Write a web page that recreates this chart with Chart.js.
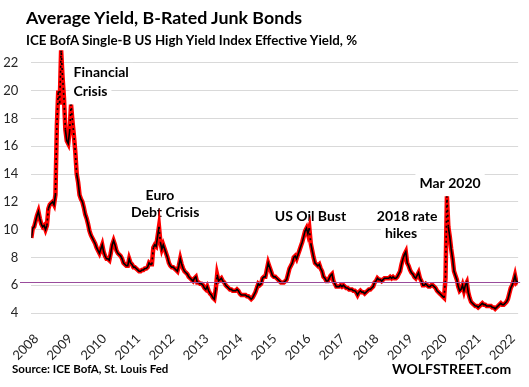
<!DOCTYPE html>
<html>
<head>
<meta charset="utf-8">
<script src="https://cdn.jsdelivr.net/npm/chart.js@4.4.0/dist/chart.umd.min.js"></script>
<style>
  html, body { margin: 0; padding: 0; background: #fff; }
  #wrap { position: relative; width: 529px; height: 387px; overflow: hidden; }
  #yield_chart { position: absolute; left: 0; top: 0; }
  .txt { position: absolute; font-family: Lato, sans-serif; font-weight: bold; color: #000; line-height: 1; white-space: nowrap; }
</style>
</head>
<body>
<div id="wrap">
  <canvas id="yield_chart" width="529" height="387"></canvas>
  <div class="txt" style="left:26px; top:9px; font-size:17.8px;">Average Yield, B-Rated Junk Bonds</div>
  <div class="txt" style="left:26px; top:34px; font-size:13.3px;">ICE BofA Single-B US High Yield Index Effective Yield, %</div>
  <div class="txt" style="left:12px; top:363px; font-size:11.5px;">Source: ICE BofA, St. Louis Fed</div>
  <div class="txt" style="left:392px; top:362px; font-size:14px;">WOLFSTREET.com</div>
</div>
<script>
// yields, twice a month (1st and 16th)
const y2008 = [9.4, 10.1, 10.2, 10.6, 11.0, 11.3, 10.8, 10.4, 10.2, 10.3, 10.0, 10.3, 11.5, 11.8, 11.9, 12.0, 11.8, 12.5, 17.5, 20.0, 19.0, 22.9, 21.0, 19.5];
const y2009 = [17.2, 16.4, 16.2, 17.1, 19.0, 17.8, 16.8, 15.6, 14.0, 13.4, 12.5, 12.2, 12.0, 11.6, 11.1, 10.8, 10.4, 9.9, 9.6, 9.4, 9.2, 9.0, 8.7, 8.5];
const y2010 = [8.3, 8.6, 8.9, 8.4, 8.1, 7.9, 7.9, 7.8, 8.3, 8.9, 9.2, 8.9, 8.5, 8.3, 8.2, 8.1, 7.9, 7.6, 7.5, 7.4, 7.4, 7.9, 7.6, 7.5];
const y2011 = [7.3, 7.3, 7.2, 7.1, 7.0, 7.0, 7.1, 7.1, 7.2, 7.2, 7.3, 7.6, 7.5, 7.5, 8.7, 8.9, 8.8, 9.5, 10.2, 9.1, 8.6, 8.9, 8.6, 8.3];
const y2012 = [8.0, 7.6, 7.4, 7.3, 7.3, 7.2, 7.1, 7.0, 7.4, 7.9, 7.5, 7.2, 7.0, 6.9, 6.8, 6.6, 6.5, 6.4, 6.3, 6.5, 6.6, 6.2, 6.2, 6.1];
const y2013 = [6.1, 6.0, 5.8, 5.7, 5.9, 5.6, 5.4, 5.3, 5.1, 5.0, 5.7, 6.75, 6.3, 6.4, 6.5, 6.3, 6.2, 6.0, 5.9, 5.8, 5.7, 5.7, 5.6, 5.6];
const y2014 = [5.6, 5.7, 5.6, 5.4, 5.3, 5.3, 5.3, 5.3, 5.2, 5.2, 5.1, 5.0, 5.1, 5.3, 5.5, 5.8, 6.1, 6.0, 6.1, 6.5, 6.6, 6.6, 7.1, 7.6];
const y2015 = [7.3, 7.0, 6.7, 6.6, 6.6, 6.5, 6.4, 6.3, 6.2, 6.2, 6.2, 6.3, 6.4, 6.8, 7.2, 7.4, 7.6, 8.0, 8.1, 7.9, 8.2, 8.5, 8.8, 9.1];
const y2016 = [9.5, 9.9, 10.1, 9.7, 10.1, 9.0, 8.5, 8.0, 7.6, 7.5, 7.4, 7.5, 7.2, 7.0, 6.6, 6.5, 6.3, 6.3, 6.5, 6.7, 6.8, 6.3, 6.1, 5.9];
const y2017 = [5.9, 5.9, 6.0, 5.9, 6.0, 5.9, 5.8, 5.8, 5.7, 5.7, 5.7, 5.6, 5.6, 5.5, 5.3, 5.5, 5.6, 5.5, 5.5, 5.4, 5.5, 5.6, 5.7, 5.7];
const y2018 = [5.8, 5.9, 6.2, 6.3, 6.5, 6.4, 6.4, 6.3, 6.4, 6.5, 6.5, 6.5, 6.5, 6.6, 6.5, 6.6, 6.5, 6.5, 6.6, 6.8, 7.0, 7.5, 7.9, 8.2];
const y2019 = [8.4, 7.6, 7.4, 7.1, 6.9, 6.8, 6.6, 6.5, 6.7, 6.9, 6.5, 6.3, 6.0, 6.0, 6.1, 6.0, 5.9, 5.9, 6.0, 6.0, 5.9, 5.8, 5.6, 5.5];
const y2020 = [5.4, 5.3, 5.2, 5.1, 6.5, 12.4, 10.2, 9.5, 8.6, 7.9, 7.0, 6.7, 6.4, 5.9, 5.6, 5.7, 6.0, 5.6, 6.0, 6.2, 5.5, 5.1, 4.8, 4.7];
const y2021 = [4.6, 4.5, 4.5, 4.4, 4.5, 4.6, 4.7, 4.6, 4.6, 4.5, 4.5, 4.5, 4.5, 4.4, 4.4, 4.3, 4.4, 4.5, 4.6, 4.7, 4.6, 4.6, 4.7, 4.8];
const y2022 = [5.0, 5.4, 5.8, 6.0, 6.3, 6.7, 6.2, 6.3];

const years = [2008, 2009, 2010, 2011, 2012, 2013, 2014, 2015, 2016, 2017, 2018, 2019, 2020, 2021, 2022];
const yearData = [y2008, y2009, y2010, y2011, y2012, y2013, y2014, y2015, y2016, y2017, y2018, y2019, y2020, y2021, y2022];

const latestLevel = 6.22;   // horizontal reference line
const yTicks = [4, 6, 8, 10, 12, 14, 16, 18, 20, 22];

// annotations, anchored in data units (year, %)
const notes = [
    { text: 'Financial', x: 2009.24, y: 21.28, align: 'left' },
    { text: 'Crisis', x: 2009.24, y: 19.91, align: 'left' },
    { text: 'Euro', x: 2011.78, y: 12.43, align: 'center' },
    { text: 'Debt Crisis', x: 2011.93, y: 11.21, align: 'center' },
    { text: 'US Oil Bust', x: 2016.2, y: 10.93, align: 'center' },
    { text: '2018 rate', x: 2019.04, y: 10.93, align: 'center' },
    { text: 'hikes', x: 2018.86, y: 9.71, align: 'center' },
    { text: 'Mar 2020', x: 2020.3, y: 13.31, align: 'center' }
];

function buildPoints() {
    let points = [];
    for (let i = 0; i < years.length; i++) {
        let vals = yearData[i];
        for (let k = 0; k < vals.length; k++) {
            points.push({ x: years[i] + k / 24, y: vals[k] });
        }
    }
    return points;
}

const notesPlugin = {
    id: 'notes',
    beforeDatasetsDraw(chart) {
        const ctx = chart.ctx;
        const xs = chart.scales.x, ys = chart.scales.y;
        ctx.save();
        ctx.font = 'bold 14px Lato, sans-serif';
        ctx.textBaseline = 'middle';
        notes.forEach(n => {
            let px = xs.getPixelForValue(n.x);
            let py = ys.getPixelForValue(n.y);
            let w = ctx.measureText(n.text).width;
            let left = n.align === 'left' ? px : px - w / 2;
            ctx.fillStyle = '#fff';
            ctx.fillRect(left - 4, py - 10, w + 8, 20);
        });
        notes.forEach(n => {
            let px = xs.getPixelForValue(n.x);
            let py = ys.getPixelForValue(n.y);
            ctx.fillStyle = '#000';
            ctx.textAlign = n.align;
            ctx.fillText(n.text, px, py);
        });
        ctx.restore();
    },
    afterDatasetsDraw(chart) {
        const ctx = chart.ctx;
        let py = Math.round(chart.scales.y.getPixelForValue(latestLevel)) + 0.5;
        ctx.save();
        ctx.strokeStyle = '#9a4c9c';
        ctx.lineWidth = 1.2;
        ctx.beginPath();
        ctx.moveTo(20, py);
        ctx.lineTo(chart.chartArea.right + 2, py);
        ctx.stroke();
        ctx.restore();
    }
};

// steep moves show up as black dots on the red line
function steepDash(ctx) {
    let dy = Math.abs(ctx.p1.parsed.y - ctx.p0.parsed.y);
    return dy >= 1.0 ? [2, 3] : [];
}

function getYieldChart() {
    const points = buildPoints();
    const tickFont = { family: 'Lato, sans-serif', size: 13 };
    return {
        type: 'line',
        data: {
            datasets: [{
                label: 'Yield',
                data: points,
                borderColor: '#000',
                borderWidth: 1.6,
                borderDash: [],
                pointRadius: 0,
                tension: 0,
                segment: { borderDash: steepDash }
            }, {
                label: 'Yield (outline)',
                data: points,
                borderColor: '#ff0000',
                borderWidth: 4.5,
                pointRadius: 0,
                tension: 0
            }]
        },
        options: {
            responsive: false,
            animation: false,
            layout: { padding: { top: 49, right: 3, left: 0, bottom: 0 } },
            plugins: { legend: false, tooltip: { enabled: false } },
            scales: {
                x: {
                    type: 'linear',
                    min: 2008,
                    max: 2022.3,
                    grid: { display: false },
                    border: { display: false },
                    afterBuildTicks: s => { s.ticks = years.map(v => ({ value: v })); },
                    afterFit: s => { s.height = 74; },
                    ticks: {
                        autoSkip: false,
                        minRotation: 45,
                        maxRotation: 45,
                        padding: 10,
                        labelOffset: 5,
                        color: '#262626',
                        font: tickFont,
                        callback: v => String(v)
                    }
                },
                y: {
                    min: 4,
                    max: 23,
                    grid: { color: '#d9d9d9', drawTicks: false },
                    border: { display: false },
                    afterBuildTicks: s => { s.ticks = yTicks.map(v => ({ value: v })); },
                    afterFit: s => { s.width = 31; },
                    ticks: {
                        padding: 13,
                        color: '#262626',
                        font: tickFont,
                        callback: v => String(v)
                    }
                }
            }
        },
        plugins: [notesPlugin]
    };
}

new Chart(document.getElementById("yield_chart").getContext("2d"), getYieldChart());
</script>
</body>
</html>
